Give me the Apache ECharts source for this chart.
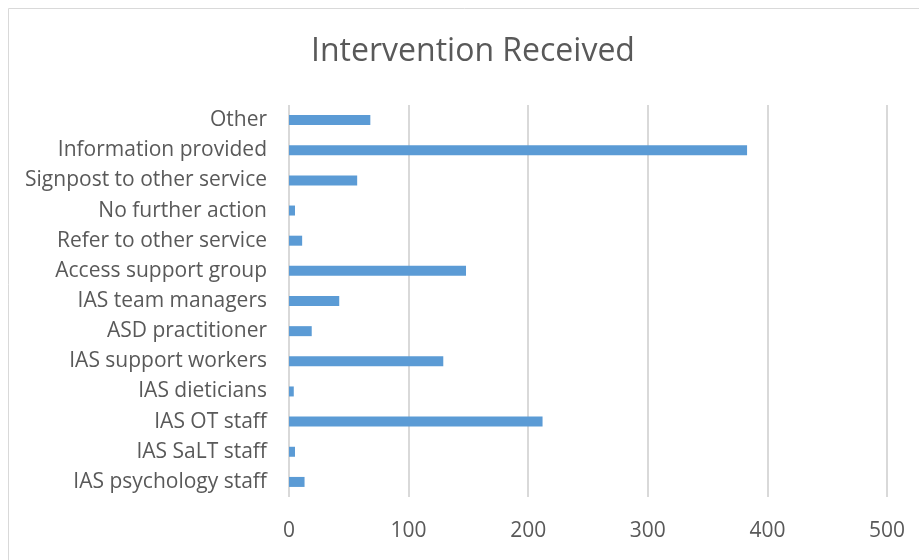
<!DOCTYPE html>
<html>
<head>
<meta charset="utf-8">
<script src="https://cdn.jsdelivr.net/npm/echarts@6/dist/echarts.min.js"></script>
<style>
  html, body { margin: 0; padding: 0; background: #fff; }
  #chart { width: 919px; height: 560px; }
</style>
</head>
<body>
<div id="chart"></div>
<script>
// categories top to bottom
const categories = [
  'Other',
  'Information provided',
  'Signpost to other service',
  'No further action',
  'Refer to other service',
  'Access support group',
  'IAS team managers',
  'ASD practitioner',
  'IAS support workers',
  'IAS dieticians',
  'IAS OT staff',
  'IAS SaLT staff',
  'IAS psychology staff'
];
const counts = [68, 383, 57, 5, 11, 148, 42, 19, 129, 4, 212, 5, 13];
const xTicks = [0, 100, 200, 300, 400, 500];

const textColor = '#595959';
const gridColor = '#d9d9d9';
const fontName = 'Open Sans';

const chart = echarts.init(document.getElementById('chart'));
chart.setOption({
  animation: false,
  textStyle: { fontFamily: fontName },
  graphic: [{
    type: 'rect',
    shape: { x: 8.5, y: 8.5, width: 920, height: 560 },
    style: { fill: 'none', stroke: '#d9d9d9', lineWidth: 1 }
  }],
  title: {
    text: 'Intervention Received',
    left: 468,
    textAlign: 'center',
    top: 31,
    textStyle: { fontFamily: fontName, fontSize: 32, fontWeight: 'normal', color: textColor }
  },
  grid: { left: 289, right: 32, top: 105, bottom: 63 },
  xAxis: {
    type: 'value',
    min: xTicks[0],
    max: xTicks[xTicks.length - 1],
    interval: 100,
    axisLine: { show: false },
    axisTick: { show: false },
    axisLabel: { color: textColor, fontSize: 21, margin: 24, fontFamily: fontName },
    splitLine: { show: true, lineStyle: { color: gridColor, width: 2 } }
  },
  yAxis: {
    type: 'category',
    inverse: true,
    data: categories,
    axisLine: { show: false },
    axisTick: { show: false },
    axisLabel: { color: textColor, fontSize: 21, margin: 22, fontFamily: fontName }
  },
  series: [{
    type: 'bar',
    data: counts,
    barWidth: 10,
    itemStyle: { color: '#5b9bd5' }
  }]
});
</script>
</body>
</html>
